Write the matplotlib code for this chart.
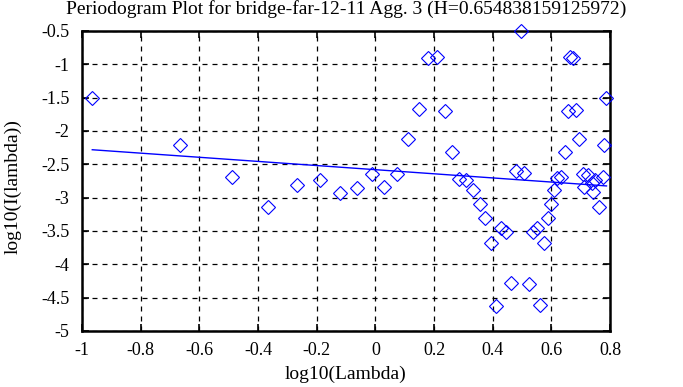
import matplotlib
matplotlib.use("Agg")
import matplotlib.pyplot as plt
import numpy as np

plt.rcParams['font.family'] = ['Liberation Serif', 'DejaVu Serif']
plt.rcParams['axes.unicode_minus'] = False

log_lambda = [-0.965, -0.665, -0.488, -0.365, -0.267, -0.189, -0.122, -0.063, -0.013, 0.031,
              0.074, 0.112, 0.148, 0.180, 0.211, 0.237, 0.263, 0.285, 0.308, 0.333,
              0.356, 0.375, 0.396, 0.413, 0.429, 0.447, 0.463, 0.480, 0.496, 0.508,
              0.524, 0.538, 0.550, 0.563, 0.574, 0.587, 0.600, 0.608, 0.619, 0.634,
              0.646, 0.657, 0.665, 0.674, 0.685, 0.694, 0.707, 0.724, 0.712, 0.737,
              0.748, 0.742, 0.763, 0.776, 0.780, 0.788]
log_I = [-1.50, -2.205, -2.69, -3.135, -2.81, -2.73, -2.925, -2.86, -2.64, -2.835,
         -2.645, -2.125, -1.675, -0.90, -0.89, -1.695, -2.31, -2.715, -2.735, -2.885,
         -3.10, -3.305, -3.675, -4.625, -3.46, -3.51, -4.285, -2.605, -0.495, -2.625,
         -4.29, -3.51, -3.46, -4.615, -3.675, -3.30, -3.10, -2.89, -2.71, -2.69,
         -2.315, -1.70, -0.885, -0.91, -1.68, -2.12, -2.64, -2.66, -2.835, -2.785,
         -2.735, -2.91, -3.135, -2.685, -2.205, -1.50]
H = 0.654838159125972
slope = 1 - 2 * H
intercept = -2.58
title = "Periodogram Plot for bridge-far-12-11 Agg. 3 (H=0.654838159125972)"
xticks = [-1, -0.8, -0.6, -0.4, -0.2, 0, 0.2, 0.4, 0.6, 0.8]
xticklabels = ["-1", "-0.8", "-0.6", "-0.4", "-0.2", "0", "0.2", "0.4", "0.6", "0.8"]
yticks = [-5, -4.5, -4, -3.5, -3, -2.5, -2, -1.5, -1, -0.5]
yticklabels = ["-5", "-4.5", "-4", "-3.5", "-3", "-2.5", "-2", "-1.5", "-1", "-0.5"]

fig = plt.figure(figsize=(6.83, 3.87), dpi=100)
ax = fig.add_axes([82/683, 1-331/387, 528/683, 300/387])

ax.plot(log_lambda, log_I, linestyle='none', marker='D', markersize=7,
        markerfacecolor='none', markeredgecolor='blue', markeredgewidth=0.8,
        clip_on=False, zorder=3)
xl = np.array([min(log_lambda), max(log_lambda)])
ax.plot(xl, intercept + slope * xl, color='blue', linewidth=1.0, zorder=3)

ax.set_xlim(-1, 0.8)
ax.set_ylim(-5, -0.5)
ax.set_xticks(xticks)
ax.set_xticklabels(xticklabels)
ax.set_yticks(yticks)
ax.set_yticklabels(yticklabels)
ax.tick_params(direction='in', length=5, width=1.2, labelsize=13, top=True, right=True, pad=8)
ax.tick_params(axis='y', pad=9)
ax.grid(True, color='black', linestyle=(0, (4, 4)), linewidth=0.9)
for s in ax.spines.values():
    s.set_linewidth(1.8)

ax.set_xlabel("log10(Lambda)", fontsize=14)
ax.xaxis.set_label_coords(0.5, -0.115)
ax.xaxis.label.set_va('top')
ax.set_ylabel("log10(I(lambda))", fontsize=14)
ax.yaxis.set_label_coords((22-82)/528, (331-187)/300)
fig.text(0.5*(82+610)/683, 1-14/387, title, ha='center', va='baseline', fontsize=14)

fig.savefig("out.png", dpi=100)
